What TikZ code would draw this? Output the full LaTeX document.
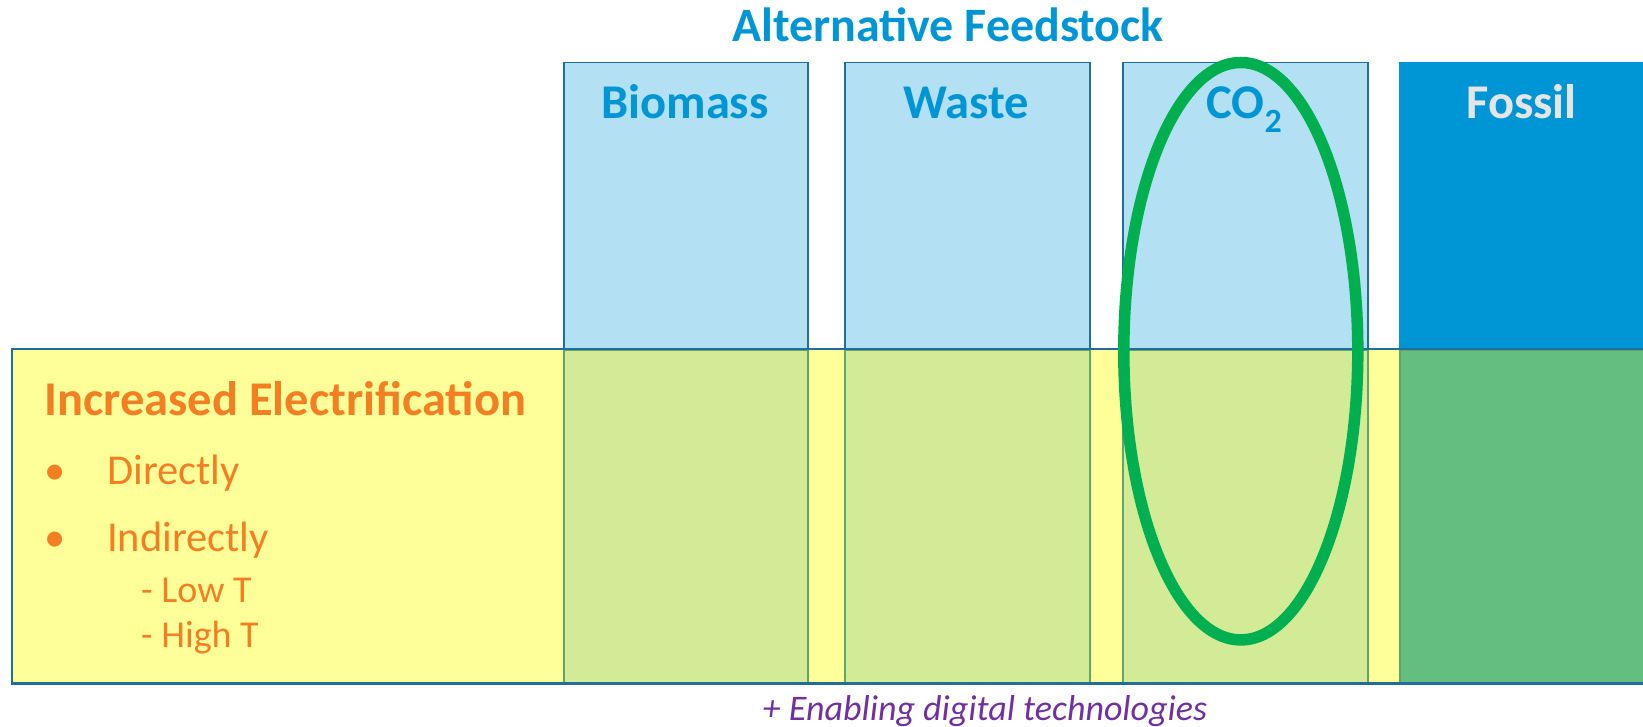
\documentclass[tikz,border=0pt]{standalone}
\usepackage{fontspec}
\setmainfont{Carlito}

\definecolor{bandyellow}{HTML}{FFFF99}
\definecolor{paleblue}{HTML}{B3E0F2}
\definecolor{deepblue}{HTML}{0096D6}
\definecolor{edgeblue}{HTML}{1F6E9C}
\definecolor{palegreen}{HTML}{D3EB96}
\definecolor{midgreen}{HTML}{64BE80}
\definecolor{edgegreen}{HTML}{5FA56C}
\definecolor{ringgreen}{HTML}{00B050}
\definecolor{elecorange}{HTML}{F47F22}
\definecolor{digipurple}{HTML}{7030A0}

\tikzset{
  colbox/.style={rectangle, anchor=north west, inner sep=0pt, line width=1.5pt},
  upbox/.style={colbox, fill=paleblue, draw=edgeblue, minimum height=287pt},
  lowbox/.style={colbox, fill=palegreen, draw=edgegreen, minimum height=333pt},
  headtxt/.style={anchor=base, inner sep=0pt, text=deepblue, font=\fontsize{48.5}{58}\selectfont\bfseries},
  electxt/.style={anchor=base west, inner sep=0pt, text=elecorange}
}

\begin{document}
\begin{tikzpicture}[x=1pt, y=-1pt]

    \clip (0,0) rectangle (1643,727);
    \useasboundingbox (0,0) rectangle (1643,727);

    % Electrification band (fill only, outline comes last)
    \node[colbox, fill=bandyellow, minimum width=1648pt, minimum height=333pt] (band) at (12,349) {};

    % Feedstock columns, upper parts
    \node[upbox, minimum width=244pt] (bio) at (563,62) {};
    \node[upbox, minimum width=245pt] (waste) at (844,62) {};
    \node[upbox, minimum width=245pt] (co2) at (1122,62) {};
    \node[upbox, fill=deepblue, draw=deepblue, minimum width=260pt] (fossil) at (1399,62) {};

    % Feedstock columns, parts inside the band
    \node[lowbox, minimum width=244pt] (biolow) at (563,349) {};
    \node[lowbox, minimum width=245pt] (wastelow) at (844,349) {};
    \node[lowbox, minimum width=245pt] (co2low) at (1122,349) {};
    \node[lowbox, fill=midgreen, minimum width=260pt] (fossillow) at (1399,349) {};

    % Band outline
    \draw[edgeblue, line width=2.5pt] (band.north west) rectangle (band.south east);

    % Headings
    \node[headtxt, font=\fontsize{48}{58}\selectfont\bfseries] (title) at (948,42) {Alternative Feedstock};
    \node[headtxt] (biotxt) at (685,119) {Biomass};
    \node[headtxt] (wastetxt) at (966.5,119) {Waste};
    \node[headtxt] (co2txt) at (1244.5,119) {CO\textsubscript{2}};
    \node[headtxt, text=black!10] (fossiltxt) at (1521.5,119) {Fossil};

    % Electrification list
    \node[electxt, font=\fontsize{48.5}{58}\selectfont\bfseries] (elec) at (44,415) {Increased Electrification};
    \node[electxt, font=\fontsize{42.5}{50}\selectfont] (b1) at (44,484) {\textbullet};
    \node[electxt, font=\fontsize{42.5}{50}\selectfont] (direct) at (107,484) {Directly};
    \node[electxt, font=\fontsize{42.5}{50}\selectfont] (b2) at (44,551) {\textbullet};
    \node[electxt, font=\fontsize{42.5}{50}\selectfont] (indirect) at (107,551) {Indirectly};
    \node[electxt, font=\fontsize{38}{45}\selectfont] (lowt) at (141,602) {- Low T};
    \node[electxt, font=\fontsize{38}{45}\selectfont] (hight) at (141,647) {- High T};

    % Ring around CO2
    \draw[ringgreen, line width=11.5pt] (1240.8,351.2) ellipse [x radius=117, y radius=288.7];

    % Footnote
    \node[anchor=base, inner sep=0pt, text=digipurple, font=\fontsize{36}{43}\selectfont\itshape] (digital) at (985,720) {+ Enabling digital technologies};

\end{tikzpicture}
\end{document}
